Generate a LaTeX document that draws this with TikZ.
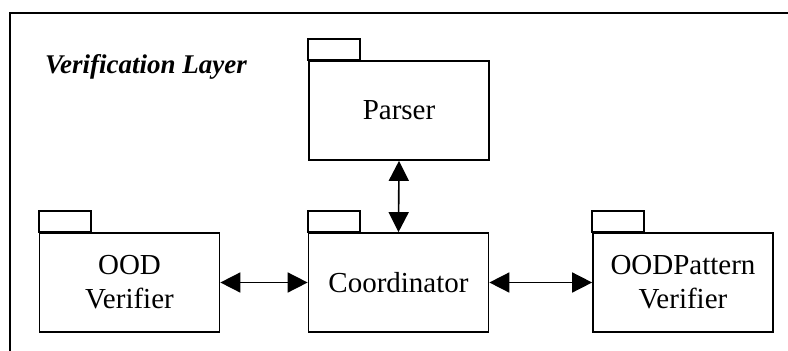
\documentclass[tikz,border=0pt]{standalone}
\usepackage{fontspec}
\setmainfont{Liberation Serif}
\usetikzlibrary{arrows.meta}
\tikzset{
  pkg/.style={draw, line width=1.7pt, minimum width=180pt, minimum height=99pt, inner sep=0pt, align=center, font=\fontsize{29}{34}\selectfont},
  tab/.style={draw, line width=1.7pt},
  conn/.style={line width=1.6pt, {Triangle[length=20pt,width=20pt]}-{Triangle[length=20pt,width=20pt]}}
}
\begin{document}
\begin{tikzpicture}[x=1pt,y=-1pt]
\useasboundingbox (0,0) rectangle (788,351);
\clip (0,0) rectangle (788,351);
\draw[line width=2.2pt] (10,400) -- (10,13) -- (800,13);
\node[anchor=base west, inner sep=0pt, font=\fontsize{27}{30}\selectfont\bfseries\itshape] (title) at (45,73) {Verification Layer};
\node[pkg] (parser) at (399,110.5) {Parser};
\node[pkg] (coord) at (398.5,282.5) {Coordinator};
\node[pkg] (ood) at (129.5,282.5) {OOD\\Verifier};
\node[pkg] (pat) at (683,282.5) {OODPattern\\Verifier};
\foreach \n in {parser,coord,ood,pat}
  \draw[tab] (\n.north west) rectangle ++(52,-21);
\draw[conn] (parser.south) -- (coord.north);
\draw[conn] (ood.east) -- (coord.west);
\draw[conn] (coord.east) -- (pat.west);
\end{tikzpicture}
\end{document}
